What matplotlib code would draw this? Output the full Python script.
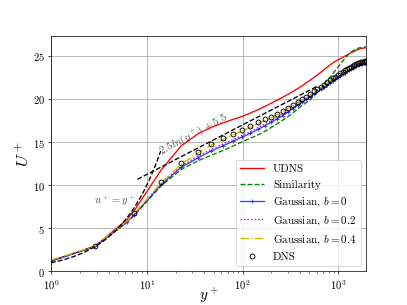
import numpy as np
import matplotlib
matplotlib.use("Agg")
import matplotlib.pyplot as plt

plt.rcParams["font.family"] = "serif"
plt.rcParams["font.serif"] = ["cmr10"]
plt.rcParams["mathtext.fontset"] = "cm"
plt.rcParams["axes.formatter.use_mathtext"] = True
plt.rcParams["axes.unicode_minus"] = False

# wall distance of the grid points (y+)
yplus = [1.0, 2.9, 6.2, 7.45, 14.2, 23, 34.4, 47.4, 62.8, 79, 99, 121, 145, 170, 198,
         229, 262, 297, 335, 375, 417, 461, 507, 555, 605, 656, 709, 763, 818, 874,
         931, 989, 1048, 1107, 1167, 1227, 1288, 1349, 1410, 1471, 1532, 1593, 1654,
         1715, 1776, 1837, 1898, 1960]

u_udns = [1.2, 2.95, 6.0, 7.1, 11.8, 14.6, 16.0, 16.75, 17.25, 17.65, 18.0, 18.4, 18.78,
          19.15, 19.52, 19.88, 20.22, 20.56, 20.9, 21.22, 21.55, 21.88, 22.2, 22.52, 22.83,
          23.13, 23.43, 23.7, 23.97, 24.2, 24.4, 24.57, 24.7, 24.85, 25.0, 25.12, 25.25,
          25.37, 25.48, 25.58, 25.67, 25.75, 25.82, 25.87, 25.91, 25.94, 25.96, 25.97]

u_sim = [1.2, 2.9, 5.7, 6.55, 9.95, 11.85, 12.85, 13.5, 14.05, 14.55, 15.05, 15.47,
         15.85, 16.25, 16.7, 17.15, 17.55, 17.95, 18.4, 18.85, 19.25, 19.6, 19.95, 20.4,
         20.85, 21.3, 21.75, 22.15, 22.55, 22.95, 23.35, 23.7, 24.05, 24.4, 24.72, 25.0,
         25.25, 25.45, 25.6, 25.72, 25.82, 25.9, 25.96, 26.0, 26.03, 26.05, 26.06, 26.07]

u_b0 = [1.2, 2.9, 5.7, 6.6, 10.1, 12.1, 13.2, 14.0, 14.6, 15.1, 15.6, 16.05, 16.5,
        16.9, 17.3, 17.7, 18.1, 18.5, 18.9, 19.3, 19.65, 20.0, 20.3, 20.6, 20.9, 21.15,
        21.4, 21.65, 21.9, 22.12, 22.33, 22.53, 22.72, 22.9, 23.07, 23.23, 23.38, 23.52,
        23.64, 23.75, 23.85, 23.94, 24.02, 24.08, 24.13, 24.17, 24.19, 24.2]

u_b02 = [1.22, 2.9, 5.75, 6.65, 10.2, 12.25, 13.4, 14.2, 14.8, 15.3, 15.8, 16.25, 16.7,
         17.1, 17.5, 17.9, 18.28, 18.65, 19.02, 19.4, 19.75, 20.08, 20.38, 20.68, 20.97,
         21.22, 21.47, 21.72, 21.96, 22.18, 22.39, 22.59, 22.78, 22.96, 23.13, 23.29,
         23.44, 23.58, 23.7, 23.81, 23.91, 24.0, 24.08, 24.14, 24.19, 24.23, 24.25, 24.26]

u_b04 = [1.3, 2.95, 5.8, 6.75, 10.3, 12.45, 13.75, 14.7, 15.3, 15.85, 16.3, 16.75,
         17.15, 17.5, 17.85, 18.2, 18.55, 18.9, 19.25, 19.6, 19.9, 20.2, 20.5, 20.8,
         21.1, 21.35, 21.6, 21.85, 22.1, 22.32, 22.53, 22.73, 22.92, 23.1, 23.27, 23.42,
         23.56, 23.69, 23.8, 23.9, 23.98, 24.06, 24.13, 24.19, 24.23, 24.27, 24.29, 24.3]

yplus_dns = yplus[1:2] + yplus[3:]
u_dns = [2.9, 6.84, 10.4, 12.6, 13.9, 14.85, 15.45, 16.0, 16.43, 16.9, 17.3, 17.65,
         17.98, 18.3, 18.65, 19.0, 19.35, 19.7, 20.0, 20.3, 20.6, 20.9, 21.2, 21.45,
         21.7, 21.95, 22.2, 22.42, 22.63, 22.83, 23.02, 23.2, 23.37, 23.52, 23.66, 23.79,
         23.9, 24.0, 24.08, 24.16, 24.23, 24.29, 24.33, 24.37, 24.39, 24.4]

# ranges of the reference laws
visc_range = (1.0, 14.0)
log_range = (8.0, 600.0)

fig, ax = plt.subplots(figsize=(6.4, 4.8), dpi=63.6)

ax.grid(True, color="#b0b0b0", linewidth=1.0)
ax.set_axisbelow(True)

ax.plot(yplus, u_udns, color="r", linewidth=1.5, label="UDNS")
ax.plot(yplus, u_sim, color="g", linestyle="--", linewidth=1.5, label="Similarity")
ax.plot(yplus, u_b0, color="b", marker="+", markersize=5, linewidth=1.5, alpha=0.75,
        label=r"Gaussian, $b=0$")
ax.plot(yplus, u_b02, color="m", linestyle=":", linewidth=1.5, label=r"Gaussian, $b=0.2$")
ax.plot(yplus, u_b04, color="y", linestyle="-.", linewidth=1.5, label=r"Gaussian, $b=0.4$")
ax.plot(yplus_dns, u_dns, linestyle="none", marker="o", markersize=5.5,
        markerfacecolor="none", markeredgecolor="k", markeredgewidth=1.0, label="DNS")

# viscous sublayer and log law
yv = np.linspace(visc_range[0], visc_range[1], 60)
ax.plot(yv, yv, "k--", linewidth=1.5)
yl = np.logspace(np.log10(log_range[0]), np.log10(log_range[1]), 60)
ax.plot(yl, 2.5 * np.log(yl) + 5.5, "k--", linewidth=1.5)

ax.text(2.85, 7.9, r"$u^+ = y^+$", fontsize=12, color="#555555")
ax.text(15.0, 13.0, r"$2.5ln(y^+) + 5.5$", fontsize=12.5, color="#555555",
        rotation=28, rotation_mode="anchor", ha="left", va="bottom")

ax.set_xscale("log")
ax.set_xlim(1, 1960)
ax.set_ylim(0, 27.3)
ax.set_yticks([0, 5, 10, 15, 20, 25])
ax.tick_params(labelsize=12)
ax.set_xlabel(r"$y^+$", fontsize=17, labelpad=-6)
ax.set_ylabel(r"$U^+$", fontsize=19, labelpad=1)

ax.legend(loc="lower right", fontsize=12.5, handlelength=2.2)

plt.savefig("out.png", dpi=63.6)
